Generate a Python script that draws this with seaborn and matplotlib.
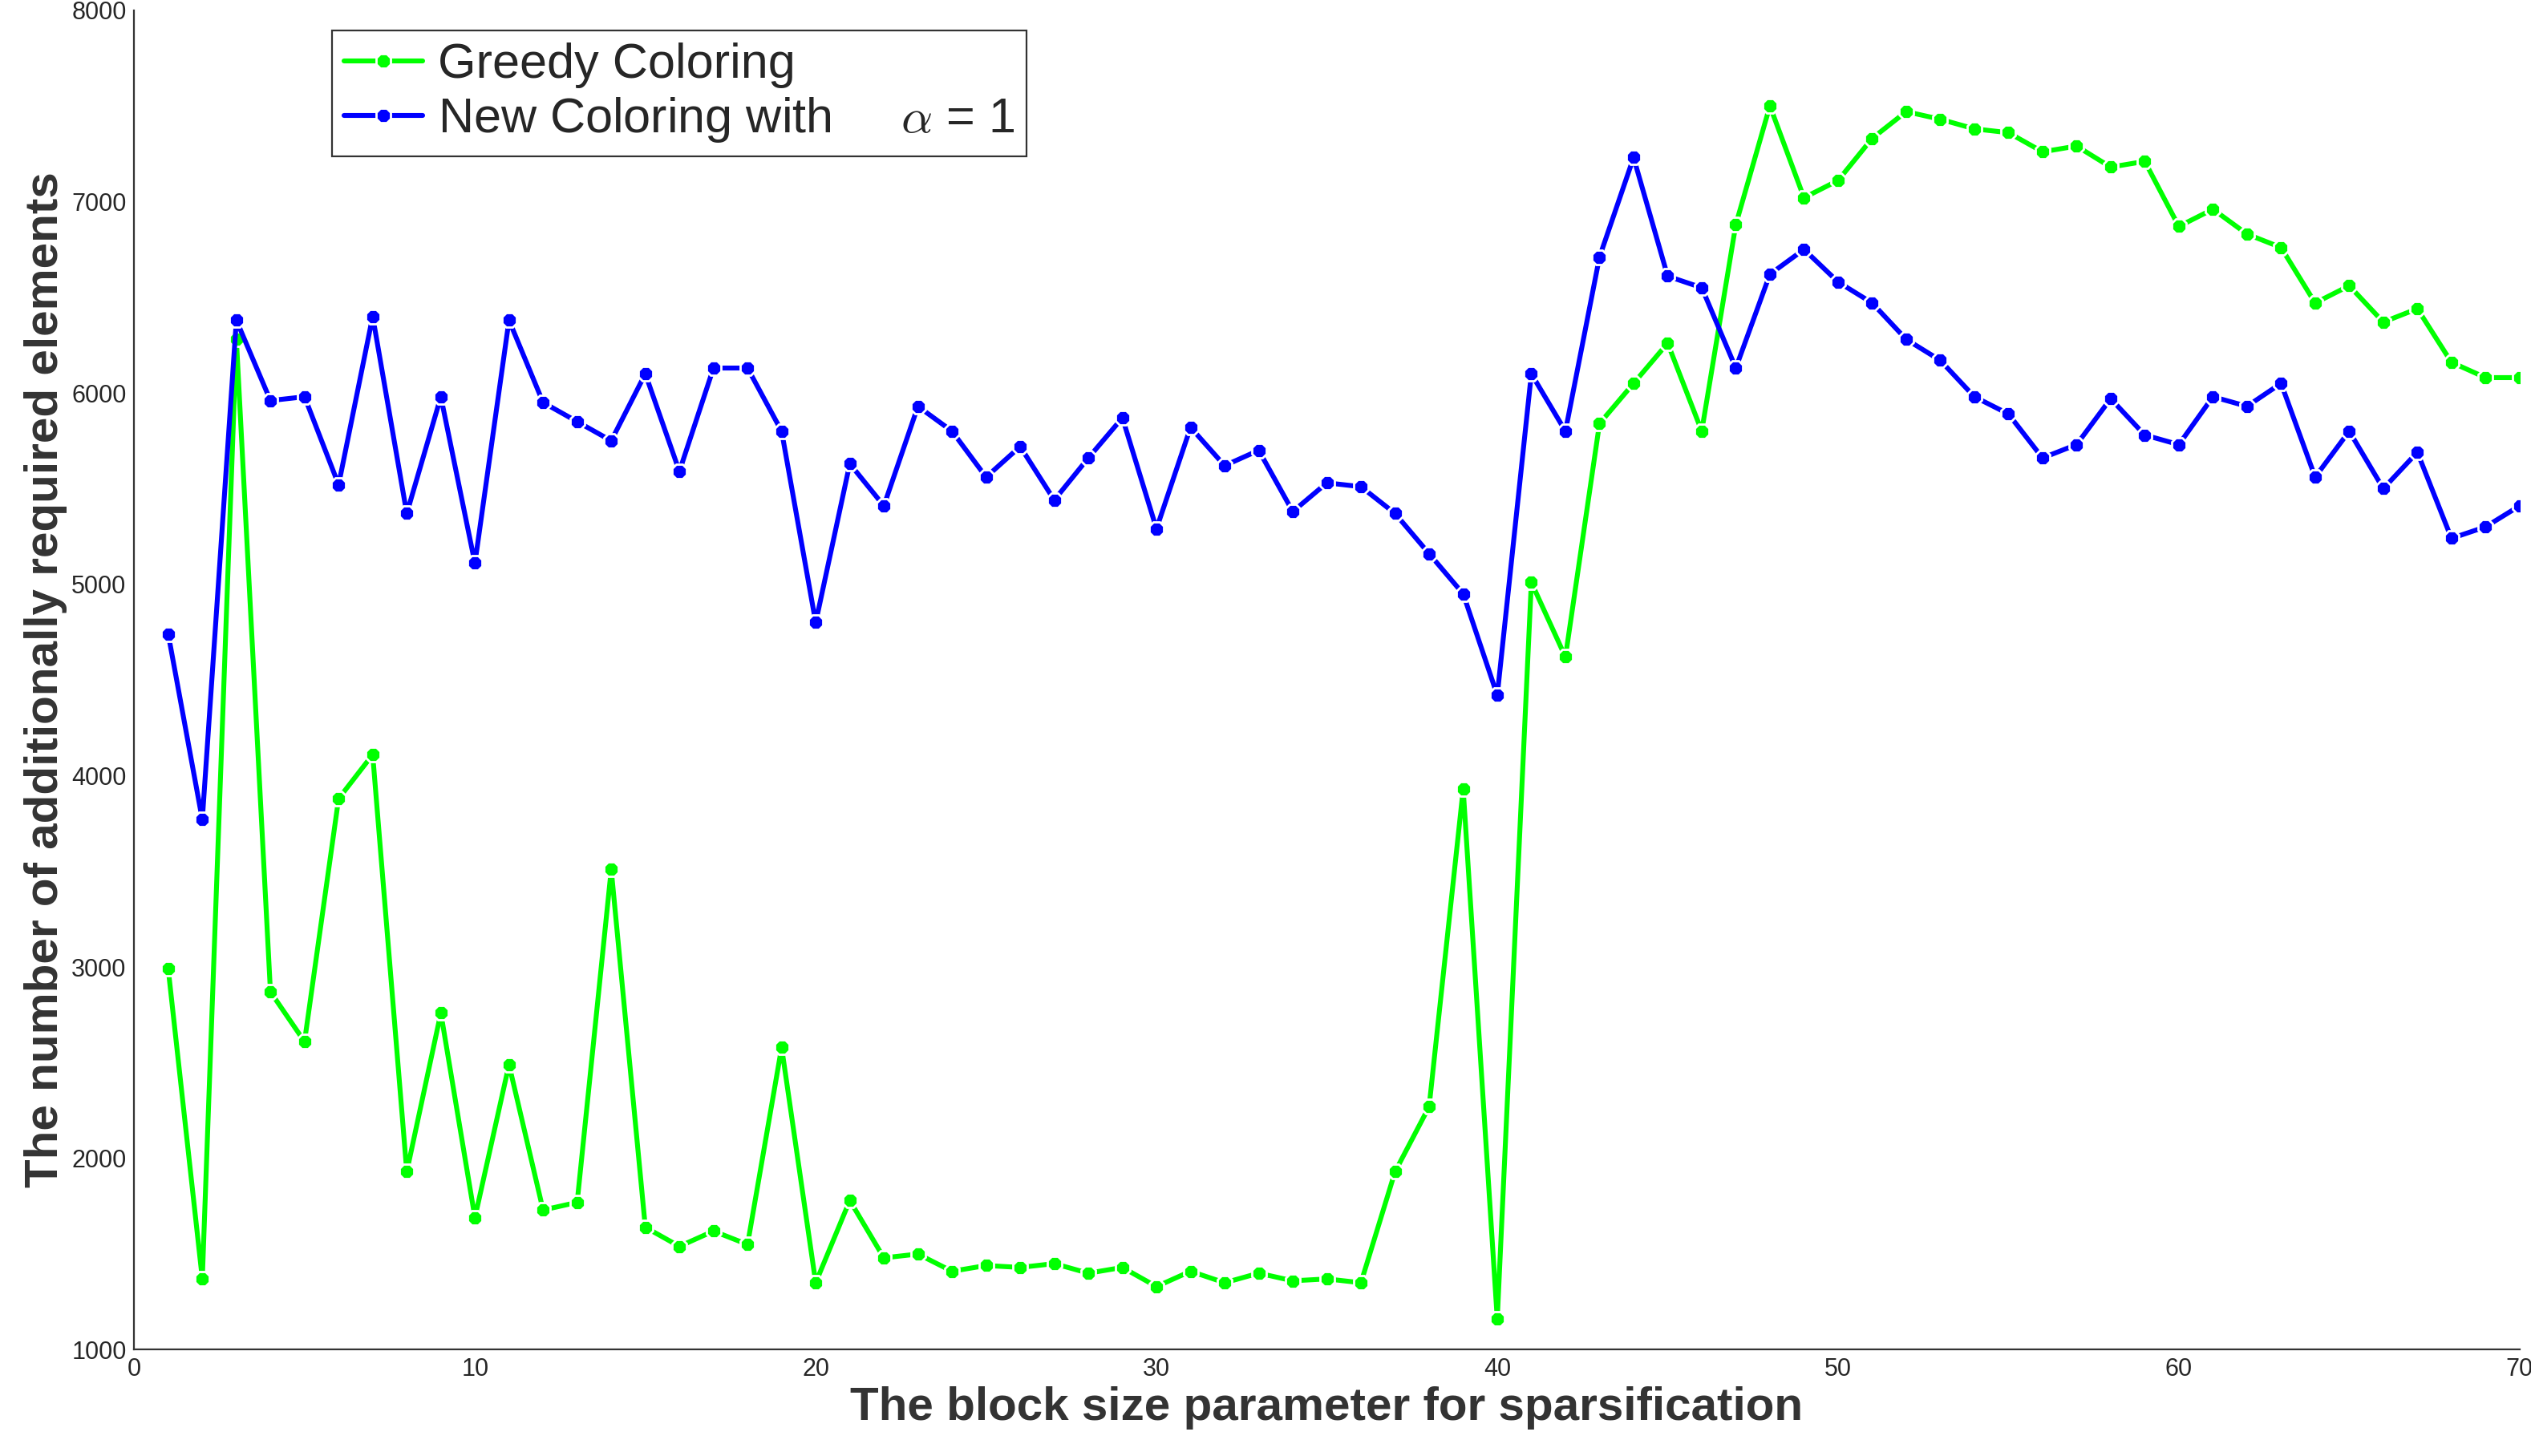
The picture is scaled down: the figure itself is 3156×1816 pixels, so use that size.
import numpy as np
import pandas as pd
import matplotlib
matplotlib.use("Agg")
import matplotlib.pyplot as plt
import seaborn as sns

sns.set_theme(style="white")
plt.rcParams['font.family'] = ['Liberation Sans', 'DejaVu Sans']
plt.rcParams['mathtext.fontset'] = 'cm'

block_size = list(range(1, 71))
greedy = [2990, 1370, 6280, 2870, 2610, 3880, 4110, 1930, 2760, 1690,
          2490, 1730, 1770, 3510, 1640, 1540, 1620, 1550, 2580, 1350,
          1780, 1480, 1500, 1410, 1440, 1430, 1450, 1400, 1430, 1330,
          1410, 1350, 1400, 1360, 1370, 1350, 1930, 2270, 3930, 1160,
          5010, 4620, 5840, 6050, 6260, 5800, 6880, 7500, 7020, 7110,
          7330, 7470, 7430, 7380, 7360, 7260, 7290, 7180, 7210, 6870,
          6960, 6830, 6760, 6470, 6560, 6370, 6440, 6160, 6080, 6080]
new_coloring = [4740, 3770, 6380, 5960, 5980, 5520, 6400, 5370, 5980, 5110,
                6380, 5950, 5850, 5750, 6100, 5590, 6130, 6130, 5800, 4800,
                5630, 5410, 5930, 5800, 5560, 5720, 5440, 5660, 5870, 5290,
                5820, 5620, 5700, 5380, 5530, 5510, 5370, 5160, 4950, 4420,
                6100, 5800, 6710, 7230, 6610, 6550, 6130, 6620, 6750, 6580,
                6470, 6280, 6170, 5980, 5890, 5660, 5730, 5970, 5780, 5730,
                5980, 5930, 6050, 5560, 5800, 5500, 5690, 5240, 5300, 5410]
series_names = ["Greedy Coloring", r"New Coloring with     $\alpha$ = 1"]

df = pd.DataFrame({
    "x": block_size * 2,
    "y": greedy + new_coloring,
    "method": [series_names[0]] * 70 + [series_names[1]] * 70,
})

fig = plt.figure(figsize=(15.78, 9.08), dpi=200)
ax = fig.add_axes([0.053, 0.073, 0.9425, 0.92])
sns.lineplot(data=df, x="x", y="y", hue="method",
             palette=["#00ff00", "#0000ff"], marker="8", markersize=7,
             markeredgewidth=1.0, linewidth=2.2, ax=ax)

ax.set_xlim(0, 70)
ax.set_ylim(1000, 8000)
ax.set_xticks(range(0, 71, 10))
ax.set_yticks(range(1000, 8001, 1000))
ax.tick_params(axis='both', labelsize=11, direction='in', length=0)
ax.set_xlabel("The block size parameter for sparsification",
              fontsize=21, fontweight='bold', color='#333333', labelpad=2)
ax.set_ylabel("The number of additionally required elements",
              fontsize=21, fontweight='bold', color='#333333', labelpad=2)
sns.despine(ax=ax)
for s in ['left', 'bottom']:
    ax.spines[s].set_color('#333333')
    ax.spines[s].set_linewidth(0.8)

leg = ax.legend(loc='upper left', bbox_to_anchor=(0.083, 0.985),
                fontsize=22, frameon=True, fancybox=False,
                edgecolor='black', handlelength=1.6, handletextpad=0.3,
                borderpad=0.25, labelspacing=0.15, borderaxespad=0)
leg.get_frame().set_linewidth(0.8)

fig.savefig("out.png", dpi=200)
